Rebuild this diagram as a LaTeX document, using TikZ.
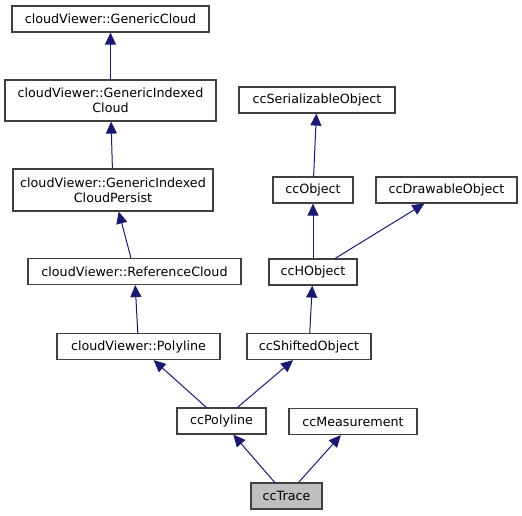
\documentclass[tikz,border=0pt]{standalone}
\usepackage{fontspec}
\setmainfont{DejaVu Sans}
\usepackage{tikz}
\usetikzlibrary{arrows.meta}

\definecolor{edgeblue}{HTML}{191970}
\definecolor{boxborder}{HTML}{404040}
\definecolor{boxgray}{HTML}{BFBFBF}

\begin{document}
\begin{tikzpicture}[
						x=1pt, y=-1pt,
						every node/.style={font=\fontsize{12.7}{15}\selectfont},
						cls/.style={draw=boxborder, line width=1.2pt, fill=white, minimum height=26pt, inner sep=0pt, align=center},
						inherit/.style={draw=edgeblue, line width=1pt, -{Triangle[length=12pt,width=11pt]}}
				]
    \useasboundingbox (0,0) rectangle (522,515);

    % cloudViewer side
    \node[cls, minimum width=197pt] (GenericCloud) at (110.5,19) {cloudViewer::GenericCloud};
    \node[cls, minimum width=211pt, minimum height=41pt] (GenericIndexedCloud) at (110.5,100.5) {cloudViewer::GenericIndexed\\Cloud};
    \node[cls, minimum width=200pt, minimum height=42pt] (GenericIndexedCloudPersist) at (113,190) {cloudViewer::GenericIndexed\\CloudPersist};
    \node[cls, minimum width=213pt] (ReferenceCloud) at (134.5,271.5) {cloudViewer::ReferenceCloud};
    \node[cls, minimum width=163pt] (Polyline) at (138.5,346.5) {cloudViewer::Polyline};

    % cc side
    \node[cls, minimum width=156pt] (SerializableObject) at (317,100) {ccSerializableObject};
    \node[cls, minimum width=80pt] (Object) at (313,190) {ccObject};
    \node[cls, minimum width=141pt] (DrawableObject) at (446.5,190) {ccDrawableObject};
    \node[cls, minimum width=88pt] (HObject) at (313,272) {ccHObject};
    \node[cls, minimum width=124pt] (ShiftedObject) at (309,346.5) {ccShiftedObject};
    \node[cls, minimum width=89pt] (ccPolyline) at (221.5,421) {ccPolyline};
    \node[cls, minimum width=128pt] (Measurement) at (353,421.5) {ccMeasurement};
    \node[cls, minimum width=71pt, fill=boxgray] (Trace) at (286.5,496) {ccTrace};

    % inheritance arrows
    \draw[inherit] (GenericIndexedCloud) -- (GenericCloud);
    \draw[inherit] (GenericIndexedCloudPersist) -- (GenericIndexedCloud);
    \draw[inherit] (ReferenceCloud) -- (GenericIndexedCloudPersist);
    \draw[inherit] (Polyline) -- (ReferenceCloud);
    \draw[inherit] (Object) -- (SerializableObject);
    \draw[inherit] (HObject) -- (Object);
    \draw[inherit] (HObject) -- (DrawableObject);
    \draw[inherit] (ShiftedObject) -- (HObject);
    \draw[inherit] (ccPolyline) -- (Polyline);
    \draw[inherit] (ccPolyline) -- (ShiftedObject);
    \draw[inherit] (Trace) -- (ccPolyline);
    \draw[inherit] (Trace) -- (Measurement);

  \end{tikzpicture}
\end{document}
